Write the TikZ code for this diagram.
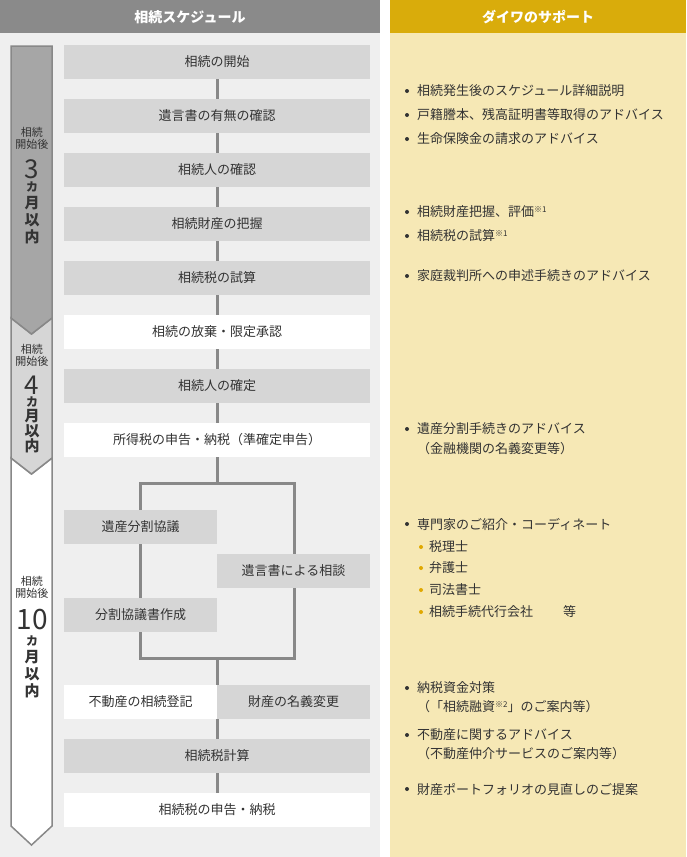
\documentclass[tikz,border=0pt]{standalone}
\usepackage{fontspec}
\setmainfont{Noto Sans CJK JP}
\definecolor{hdrL}{HTML}{8A8A8A}
\definecolor{hdrR}{HTML}{D9AC0B}
\definecolor{bgL}{HTML}{EFEFEF}
\definecolor{bgR}{HTML}{F6E8B5}
\definecolor{boxg}{HTML}{D6D6D6}
\definecolor{ln}{HTML}{888888}
\definecolor{tx}{HTML}{333333}
\definecolor{gold}{HTML}{E0A800}
\begin{document}
\begin{tikzpicture}[x=1pt,y=-1pt,
  stepbox/.style={minimum height=34pt,inner sep=0pt,font=\fontsize{13}{13}\selectfont,text=tx},
  gbox/.style={stepbox,fill=boxg},
  wbox/.style={stepbox,fill=white},
  conn/.style={draw=ln,line width=3pt},
  sup/.style={font=\fontsize{13}{16}\selectfont,text=tx,anchor=west,inner sep=0pt},
  small/.style={font=\fontsize{11}{12}\selectfont,text=tx,align=center,inner sep=0pt}]
\useasboundingbox (0,0) rectangle (686,857);
\fill[bgL] (0,33) rectangle (380,857);
\fill[bgR] (390,33) rectangle (686,857);
\fill[hdrL] (0,0) rectangle (380,33);
\fill[hdrR] (390,0) rectangle (686,33);
\node[text=white,font=\fontsize{14}{14}\selectfont\bfseries] (h1) at (190,17) {相続スケジュール};
\node[text=white,font=\fontsize{14}{14}\selectfont\bfseries] (h2) at (538,17) {ダイワのサポート};
% left period arrows
\draw[ln,fill=white,line width=1.5pt] (11,458) -- (31.5,474) -- (52,458) -- (52,826) -- (31.5,845) -- (11,826) -- cycle;
\draw[ln,fill=boxg,line width=1.5pt] (11,318) -- (31.5,334) -- (52,318) -- (52,458) -- (31.5,474) -- (11,458) -- cycle;
\draw[ln,fill=ln!75,line width=1.5pt] (11,46) -- (52,46) -- (52,318) -- (31.5,334) -- (11,318) -- cycle;
% labels
\node[small] (l1) at (32,138) {相続\\開始後};
\node[font=\fontsize{26}{26}\selectfont,text=tx,inner sep=0pt] (n1) at (32,169) {3};
\node[font=\fontsize{15}{17}\selectfont\bfseries,text=tx,align=center,inner sep=0pt,anchor=north] (m1) at (32,182) {{\fontsize{12}{12}\selectfont カ}\\月\\以\\内};
\node[small] (l2) at (32,355) {相続\\開始後};
\node[font=\fontsize{26}{26}\selectfont,text=tx,inner sep=0pt] (n2) at (32,385) {4};
\node[font=\fontsize{15}{15}\selectfont\bfseries,text=tx,align=center,inner sep=0pt,anchor=north] (m2) at (32,397) {{\fontsize{12}{12}\selectfont カ}\\月\\以\\内};
\node[small] (l3) at (32,587) {相続\\開始後};
\node[font=\fontsize{28}{28}\selectfont,text=tx,inner sep=0pt] (n3) at (32,620) {10};
\node[font=\fontsize{15}{17}\selectfont\bfseries,text=tx,align=center,inner sep=0pt,anchor=north] (m3) at (32,636) {{\fontsize{12}{12}\selectfont カ}\\月\\以\\内};
% connectors behind boxes
\coordinate (btop) at (217,483);
\coordinate (bbot) at (217,658);
\draw[conn] (217,62) -- (btop);
\draw[conn] (217,483) -- (140,483) -- (140,658) -- (294,658) -- (294,483) -- cycle;
\draw[conn] (bbot) -- (217,810);
% boxes
\node[gbox,minimum width=306pt] (b1) at (217,62) {相続の開始};
\node[gbox,minimum width=306pt] (b2) at (217,116) {遺言書の有無の確認};
\node[gbox,minimum width=306pt] (b3) at (217,170) {相続人の確認};
\node[gbox,minimum width=306pt] (b4) at (217,224) {相続財産の把握};
\node[gbox,minimum width=306pt] (b5) at (217,278) {相続税の試算};
\node[wbox,minimum width=306pt] (b6) at (217,332) {相続の放棄・限定承認};
\node[gbox,minimum width=306pt] (b7) at (217,386) {相続人の確定};
\node[wbox,minimum width=306pt] (b8) at (217,440) {所得税の申告・納税（準確定申告）};
\node[gbox,minimum width=153pt] (c1) at (140.5,527) {遺産分割協議};
\node[gbox,minimum width=153pt] (c2) at (293.5,571) {遺言書による相談};
\node[gbox,minimum width=153pt] (c3) at (140.5,615) {分割協議書作成};
\node[wbox,minimum width=153pt] (d1) at (140.5,702) {不動産の相続登記};
\node[gbox,minimum width=153pt] (d2) at (293.5,702) {財産の名義変更};
\node[gbox,minimum width=306pt] (b9) at (217,756) {相続税計算};
\node[wbox,minimum width=306pt] (b10) at (217,810) {相続税の申告・納税};
% right support text
\newcommand{\bul}[2]{\fill[tx] (407,#1) circle (2pt); \node[sup] at (417,#1) {#2};}
\newcommand{\gbul}[2]{\fill[gold] (421,#1) circle (2pt); \node[sup] at (429,#1) {#2};}
\bul{91}{相続発生後のスケジュール詳細説明}
\bul{115}{戸籍謄本、残高証明書等取得のアドバイス}
\bul{139}{生命保険金の請求のアドバイス}
\bul{212}{相続財産把握、評価\raisebox{4pt}{\fontsize{8}{8}\selectfont ※1}}
\bul{236}{相続税の試算\raisebox{4pt}{\fontsize{8}{8}\selectfont ※1}}
\bul{276}{家庭裁判所への申述手続きのアドバイス}
\bul{429}{遺産分割手続きのアドバイス}
\node[sup] at (417,449) {（金融機関の名義変更等）};
\bul{524}{専門家のご紹介・コーディネート}
\gbul{547}{税理士}
\gbul{568}{弁護士}
\gbul{590}{司法書士}
\gbul{612}{相続手続代行会社\hspace{2.3em}等}
\bul{688}{納税資金対策}
\node[sup] at (417,707) {（「相続融資\raisebox{4pt}{\fontsize{8}{8}\selectfont ※2}」のご案内等）};
\bul{735}{不動産に関するアドバイス}
\node[sup] at (417,754) {（不動産仲介サービスのご案内等）};
\bul{789}{財産ポートフォリオの見直しのご提案}
\end{tikzpicture}
\end{document}
